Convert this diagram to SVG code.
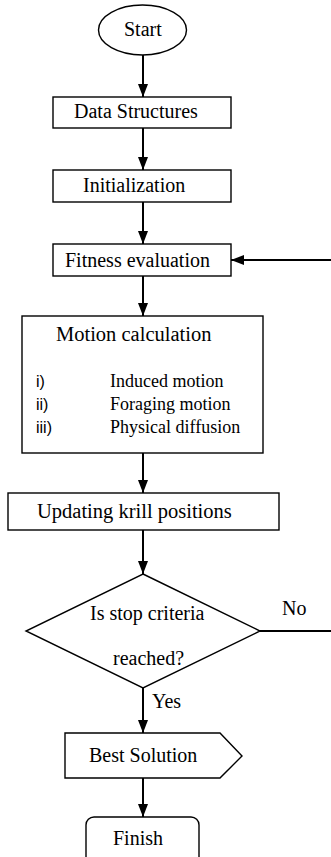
<svg xmlns="http://www.w3.org/2000/svg" width="331" height="857" viewBox="0 0 331 857">
<style>
  .shape { fill: #fff; stroke: #000; stroke-width: 1.4; }
  .conn { fill: none; stroke: #000; stroke-width: 2; }
  .t { font-family: 'Liberation Serif', 'DejaVu Serif', serif; font-size: 20px; fill: #000; }
  .item { font-size: 18px; }
  .num { font-family: 'Liberation Sans', 'DejaVu Sans', sans-serif; font-size: 16px; }
</style>
<defs>
  <marker id="arrow" viewBox="0 0 13 10" refX="13" refY="5" markerWidth="13" markerHeight="10" markerUnits="userSpaceOnUse" orient="auto" preserveAspectRatio="none">
    <path d="M0,0 L13,5 L0,10 Z" fill="#000"/>
  </marker>
</defs>
<rect width="331" height="857" fill="#fff"/>

<g id="connectors">
  <line class="conn" x1="143" y1="55" x2="143" y2="97" marker-end="url(#arrow)"/>
  <line class="conn" x1="143" y1="128" x2="143" y2="170" marker-end="url(#arrow)"/>
  <line class="conn" x1="143" y1="202" x2="143" y2="244" marker-end="url(#arrow)"/>
  <line class="conn" x1="143" y1="276" x2="143" y2="316" marker-end="url(#arrow)"/>
  <line class="conn" x1="143" y1="453" x2="143" y2="493" marker-end="url(#arrow)"/>
  <line class="conn" x1="143" y1="530" x2="143" y2="574" marker-end="url(#arrow)"/>
  <line class="conn" x1="143" y1="688" x2="143" y2="733" marker-end="url(#arrow)"/>
  <line class="conn" x1="143" y1="778" x2="143" y2="817" marker-end="url(#arrow)"/>
  <polyline class="conn" points="260,631 334,631 334,260 231,260" marker-end="url(#arrow)"/>
  <text class="t" x="282" y="615" font-family="Liberation Serif, serif">No</text>
  <text class="t" x="152" y="708" font-family="Liberation Serif, serif">Yes</text>
</g>

<g id="start">
  <ellipse class="shape" cx="142.5" cy="30" rx="44" ry="25"/>
  <text class="t" x="124" y="36">Start</text>
</g>

<g id="data-structures">
  <rect class="shape" x="53" y="97" width="178" height="31"/>
  <text class="t" x="74" y="118">Data Structures</text>
</g>

<g id="initialization">
  <rect class="shape" x="53" y="170" width="178" height="32"/>
  <text class="t" x="83" y="192">Initialization</text>
</g>

<g id="fitness">
  <rect class="shape" x="53" y="244" width="178" height="32"/>
  <text class="t" x="65" y="267">Fitness evaluation</text>
</g>

<g id="motion">
  <rect class="shape" x="22" y="316" width="241" height="137"/>
  <text class="t" x="56" y="341" style="font-size:20.5px">Motion calculation</text>
  <text class="t num" x="36" y="387">i)</text>
  <text class="t num" x="36" y="410">ii)</text>
  <text class="t num" x="36" y="433">iii)</text>
  <text class="t item" x="110" y="387">Induced motion</text>
  <text class="t item" x="110" y="410">Foraging motion</text>
  <text class="t item" x="110" y="433">Physical diffusion</text>
</g>

<g id="updating">
  <rect class="shape" x="8" y="493" width="271" height="37"/>
  <text class="t" x="37" y="518" style="font-size:20.5px">Updating krill positions</text>
</g>

<g id="decision">
  <polygon class="shape" points="143,574 260,631 143,688 26,631"/>
  <text class="t" x="90" y="620">Is stop criteria</text>
  <text class="t" x="113" y="665">reached?</text>
</g>

<g id="best-solution">
  <path class="shape" d="M65,733 H220 L242,756 L220,778 H65 Z"/>
  <text class="t" x="89" y="762">Best Solution</text>
</g>

<g id="finish">
  <rect class="shape" x="86" y="817" width="113" height="60" rx="8" ry="8"/>
  <text class="t" x="113" y="845">Finish</text>
</g>
</svg>
